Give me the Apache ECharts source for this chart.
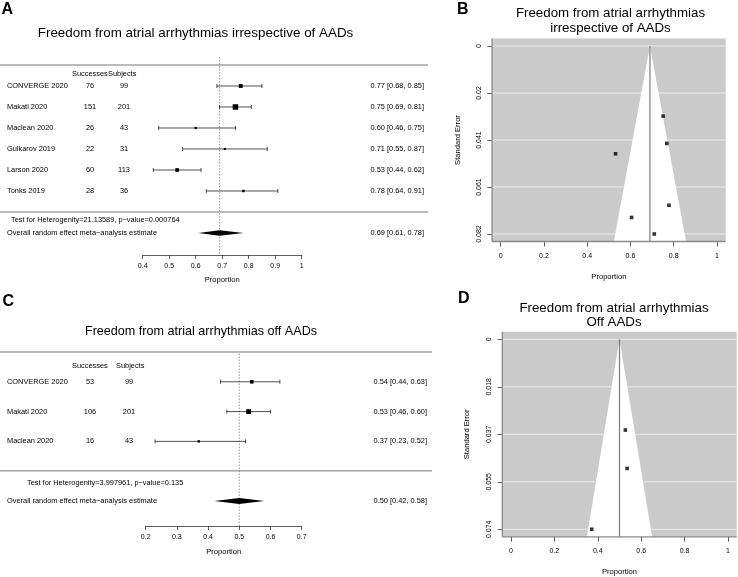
<!DOCTYPE html>
<html><head><meta charset="utf-8">
<script src="https://cdn.jsdelivr.net/npm/echarts@6/dist/echarts.min.js"></script>
<style>html,body{margin:0;padding:0;background:#fff}#c{width:738px;height:577px}</style>
</head><body><div id="c"></div>
<script>
// ---------- Panel A: forest, irrespective of AADs ----------
const studiesA = ['CONVERGE 2020','Makati 2020','Maclean 2020','Gulkarov 2019','Larson 2020','Tonks 2019'];
const successesA = [76,151,26,22,60,28];
const subjectsA = [99,201,43,31,113,36];
const estA = [0.77,0.75,0.60,0.71,0.53,0.78];
const loA  = [0.68,0.69,0.46,0.55,0.44,0.64];
const hiA  = [0.85,0.81,0.75,0.87,0.62,0.91];
const overallA = [0.69,0.61,0.78];          // estimate, lower, upper
const hetA = 'Test for Heterogenity=21.13589, p\u2212value=0.000764';
const xTicksA = [0.4,1,0.1];                 // min, max, step

// ---------- Panel B: funnel, irrespective of AADs ----------
const propB = [0.768,0.751,0.605,0.710,0.531,0.778];
const seB   = [0.0424,0.0305,0.0746,0.0818,0.0469,0.0693];
const centerB = 0.69;
const seTicksB = ['0','0.02','0.041','0.061','0.082'];

// ---------- Panel C: forest, off AADs ----------
const studiesC = ['CONVERGE 2020','Makati 2020','Maclean 2020'];
const successesC = [53,106,16];
const subjectsC = [99,201,43];
const estC = [0.54,0.53,0.37];
const loC  = [0.44,0.46,0.23];
const hiC  = [0.63,0.60,0.52];
const overallC = [0.50,0.42,0.58];
const hetC = 'Test for Heterogenity=3.997961, p\u2212value=0.135';
const xTicksC = [0.2,0.7,0.1];

// ---------- Panel D: funnel, off AADs ----------
const propD = [0.535,0.527,0.372];
const seD   = [0.0501,0.0352,0.0737];
const centerD = 0.50;
const seTicksD = ['0','0.018','0.037','0.055','0.074'];

const FF = '"Liberation Sans", Arial, Helvetica, sans-serif';

function txt(x, y, s, align, size, extra) {
  return {type:'text', x:x, y:y, style:Object.assign({text:s, fill:'#000', fontSize:size||7.4, fontFamily:FF,
    align:align||'left', verticalAlign:'middle'}, extra||{})};
}
function ciText(e,l,h){ return e.toFixed(2)+' ['+l.toFixed(2)+', '+h.toFixed(2)+']'; }

// layouts (positions only)
const LA = {nameX:7, succX:90, subjX:124, ciX:424, succHeadX:72, subjHeadX:108, headRow:0.43,
  lineRows:[0,7], lineX2:428, hetX:11, hetRow:7.38, overallRow:8, dotTopRow:-0.38, axisMax:9.048, dh:2.8, k:0.66};
const LC = {nameX:7, succX:90, subjX:129, ciX:427, succHeadX:72, subjHeadX:116, headRow:0.47,
  lineRows:[0,3.99], lineX2:432, hetX:27, hetRow:4.4, overallRow:5.0, dotTopRow:0.05, axisMax:5.84, dh:3, k:0.68};

function forestFrame(L, ov, het) {
  return function(params, api){
    const yr = r => api.coord([ov[0], r])[1];
    const xo = api.coord([ov[0], 0])[0];
    const xl = api.coord([ov[1], 0])[0];
    const xh = api.coord([ov[2], 0])[0];
    const yo = yr(L.overallRow);
    const ch = [];
    ch.push({type:'line', shape:{x1:xo, y1:yr(L.dotTopRow), x2:xo, y2:yr(L.axisMax)},
      style:{stroke:'#9a9a9a', lineWidth:1, lineDash:[1.5,1.5]}});
    L.lineRows.forEach(r => ch.push({type:'line', shape:{x1:0, y1:yr(r), x2:L.lineX2, y2:yr(r)},
      style:{stroke:'#666', lineWidth:0.9}}));
    ch.push(txt(L.succHeadX, yr(L.headRow), 'Successes'));
    ch.push(txt(L.subjHeadX, yr(L.headRow), 'Subjects'));
    ch.push(txt(L.hetX, yr(L.hetRow), het));
    ch.push(txt(L.nameX, yo, 'Overall random effect meta\u2212analysis estimate'));
    ch.push({type:'polygon', shape:{points:[[xl,yo],[xo,yo-L.dh],[xh,yo],[xo,yo+L.dh]]}, style:{fill:'#000'}});
    ch.push(txt(L.ciX, yo, ciText(ov[0],ov[1],ov[2]), 'right'));
    return {type:'group', children: ch};
  };
}
function forestItem(L, names, succ, subj, est, lo, hi) {
  return function(params, api){
    const i = params.dataIndex, row = i + 1;
    const p = api.coord([est[i], row]);
    const y = p[1], xe = p[0];
    const xl = api.coord([lo[i], row])[0], xh = api.coord([hi[i], row])[0];
    const s = Math.max(1.8, L.k/(hi[i]-lo[i]));
    const st = {stroke:'#222', lineWidth:0.8};
    return {type:'group', children:[
      {type:'line', shape:{x1:xl,y1:y,x2:xh,y2:y}, style:st},
      {type:'line', shape:{x1:xl,y1:y-2,x2:xl,y2:y+2}, style:st},
      {type:'line', shape:{x1:xh,y1:y-2,x2:xh,y2:y+2}, style:st},
      {type:'rect', shape:{x:xe-s/2,y:y-s/2,width:s,height:s}, style:{fill:'#000'}},
      txt(L.nameX, y, names[i]),
      txt(L.succX, y, String(succ[i]), 'center'),
      txt(L.subjX, y, String(subj[i]), 'center'),
      txt(L.ciX, y, ciText(est[i],lo[i],hi[i]), 'right')
    ]};
  };
}
function funnelBg(seMax, nT, c) {
  return function(params, api){
    const top = -0.04*seMax, bot = 1.04*seMax;
    const P = (x,y)=>api.coord([x,y]);
    const tl = P(-0.04, top), br = P(1.04, bot);
    const ch = [{type:'rect', shape:{x:tl[0], y:tl[1], width:br[0]-tl[0], height:br[1]-tl[1]}, style:{fill:'#cacaca'}}];
    for (let k=0;k<nT;k++){
      const v = seMax*k/(nT-1), a=P(-0.04,v), b=P(1.04,v);
      ch.push({type:'line', shape:{x1:a[0],y1:a[1],x2:b[0],y2:b[1]}, style:{stroke:'#ececec', lineWidth:1}});
    }
    const apex=P(c,0), l=P(c-1.96*bot, bot), r=P(c+1.96*bot, bot), cb=P(c,bot);
    ch.push({type:'polygon', shape:{points:[apex,l,r]}, style:{fill:'#fff'}});
    ch.push({type:'line', shape:{x1:apex[0],y1:apex[1],x2:cb[0],y2:cb[1]}, style:{stroke:'#7a7a7a', lineWidth:1.2}});
    ch.push({type:'line', shape:{x1:tl[0],y1:tl[1],x2:tl[0],y2:br[1]}, style:{stroke:'#8a8a8a', lineWidth:1.3}});
    ch.push({type:'line', shape:{x1:tl[0],y1:br[1],x2:br[0],y2:br[1]}, style:{stroke:'#8a8a8a', lineWidth:1.3}});
    return {type:'group', children: ch};
  };
}

const axLabel = {color:'#000', fontFamily:FF, fontSize:7};
const nameStyle = {color:'#000', fontFamily:FF, fontSize:7.6};
const tickStyle = {color:'#333', width:0.8};
const maxSeB = Math.max.apply(null, seB), maxSeD = Math.max.apply(null, seD);

function forestX(gi, t, gap) {
  return {gridIndex:gi, type:'value', min:t[0], max:t[1], interval:t[2],
    axisLine:{show:true, onZero:false, lineStyle:tickStyle}, axisTick:{show:true, length:4, lineStyle:tickStyle},
    axisLabel:Object.assign({margin:8}, axLabel), splitLine:{show:false},
    name:'Proportion', nameLocation:'middle', nameGap:gap, nameTextStyle:nameStyle};
}
function funnelX(gi, off, gap) {
  return {gridIndex:gi, type:'value', min:0, max:1, interval:0.2, offset:off,
    axisLine:{show:false, onZero:false}, axisTick:{show:true, length:5, lineStyle:tickStyle},
    axisLabel:Object.assign({margin:11}, axLabel), splitLine:{show:false},
    name:'Proportion', nameLocation:'middle', nameGap:gap, nameTextStyle:nameStyle};
}
function funnelY(gi, m, labels, off, gap) {
  return {gridIndex:gi, type:'value', min:0, max:m, interval:m/(labels.length-1), inverse:true, offset:off,
    axisLine:{show:false, onZero:false}, axisTick:{show:true, length:5, lineStyle:tickStyle},
    axisLabel:Object.assign({margin:10, rotate:90, formatter:(v,i)=>labels[i]}, axLabel), splitLine:{show:false},
    name:'Standard Error', nameLocation:'middle', nameGap:gap, nameRotate:90, nameTextStyle:nameStyle};
}

const gridBase = {containLabel:false, outerBoundsMode:'none'};
const option = {
  animation:false,
  grid:[
    Object.assign({left:142.7, top:65, width:159, height:190}, gridBase),
    Object.assign({left:500.7, top:46, width:216.3, height:188}, gridBase),
    Object.assign({left:145.7, top:352, width:156, height:174}, gridBase),
    Object.assign({left:511, top:339.3, width:217, height:190}, gridBase)
  ],
  xAxis:[ forestX(0, xTicksA, 20.5), funnelX(1, 7.5, 31.5), forestX(2, xTicksC, 22), funnelX(3, 7.4, 31) ],
  yAxis:[
    {gridIndex:0, type:'value', min:0, max:LA.axisMax, inverse:true, show:false},
    funnelY(1, maxSeB, seTicksB, 8.4, 30.4),
    {gridIndex:2, type:'value', min:0, max:LC.axisMax, inverse:true, show:false},
    funnelY(3, maxSeD, seTicksD, 8.3, 31.4)
  ],
  graphic:{elements:[
    txt(1.5, 10, 'A', 'left', 16, {fontWeight:'bold'}),
    txt(457, 9.5, 'B', 'left', 16, {fontWeight:'bold'}),
    txt(2.5, 302, 'C', 'left', 16, {fontWeight:'bold'}),
    txt(458, 299, 'D', 'left', 16, {fontWeight:'bold'}),
    txt(195.5, 33.5, 'Freedom from atrial arrhythmias irrespective of AADs', 'center', 13.4),
    txt(610.5, 13.5, 'Freedom from atrial arrhythmias', 'center', 13.3),
    txt(610.5, 28, 'irrespective of AADs', 'center', 13.3),
    txt(201, 332, 'Freedom from atrial arrhythmias off AADs', 'center', 12.6),
    txt(614, 308, 'Freedom from atrial arrhythmias', 'center', 13.3),
    txt(614, 322, 'Off AADs', 'center', 13.3)
  ]},
  series:[
    {type:'custom', xAxisIndex:0, yAxisIndex:0, z:1, clip:false, data:[[overallA[0], LA.overallRow]],
      renderItem: forestFrame(LA, overallA, hetA)},
    {type:'custom', xAxisIndex:0, yAxisIndex:0, z:2, clip:false, data: estA.map((e,i)=>[e, i+1]),
      renderItem: forestItem(LA, studiesA, successesA, subjectsA, estA, loA, hiA)},
    {type:'custom', xAxisIndex:1, yAxisIndex:1, z:1, clip:false, data:[[centerB, 0]],
      renderItem: funnelBg(maxSeB, seTicksB.length, centerB)},
    {type:'scatter', xAxisIndex:1, yAxisIndex:1, z:3, symbol:'rect', symbolSize:3.6,
      itemStyle:{color:'#000'}, data: propB.map((p,i)=>[p, seB[i]])},
    {type:'custom', xAxisIndex:2, yAxisIndex:2, z:1, clip:false, data:[[overallC[0], LC.overallRow]],
      renderItem: forestFrame(LC, overallC, hetC)},
    {type:'custom', xAxisIndex:2, yAxisIndex:2, z:2, clip:false, data: estC.map((e,i)=>[e, i+1]),
      renderItem: forestItem(LC, studiesC, successesC, subjectsC, estC, loC, hiC)},
    {type:'custom', xAxisIndex:3, yAxisIndex:3, z:1, clip:false, data:[[centerD, 0]],
      renderItem: funnelBg(maxSeD, seTicksD.length, centerD)},
    {type:'scatter', xAxisIndex:3, yAxisIndex:3, z:3, symbol:'rect', symbolSize:3.6,
      itemStyle:{color:'#000'}, data: propD.map((p,i)=>[p, seD[i]])}
  ]
};
const chart = echarts.init(document.getElementById('c'), null, {renderer:'canvas'});
chart.setOption(option);
</script>
</body></html>
